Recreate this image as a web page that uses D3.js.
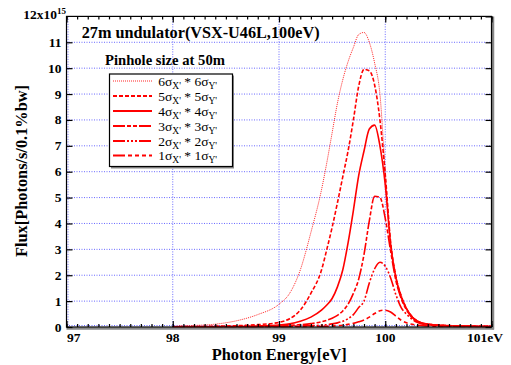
<!DOCTYPE html>
<html><head><meta charset="utf-8">
<script src="https://cdn.jsdelivr.net/npm/d3@7"></script>
<style>
html,body{margin:0;padding:0;background:#fff;}
svg{display:block;}
text{font-family:"Liberation Serif","DejaVu Serif",serif;}
</style></head>
<body><svg id="c" width="511" height="365"></svg>
<script>
const energy = [98.0,98.2,98.4,98.6,98.8,99.0,99.1,99.2,99.3,99.4,99.45,99.5,99.55,99.6,99.65,99.7,99.75,99.8,99.85,99.9,99.95,100.0,100.05,100.1,100.15,100.2,100.3,100.4,100.6,100.8,101.0];
const flux6 = [0.03,0.06,0.11,0.24,0.48,0.88,1.3,2.2,3.65,5.3,6.35,7.5,8.65,9.55,10.25,10.8,11.3,11.38,11.0,10.2,9.0,6.0,3.3,2.0,1.25,0.75,0.25,0.12,0.06,0.04,0.03];
const flux5 = [0.01,0.02,0.03,0.05,0.09,0.18,0.32,0.65,1.3,2.2,3.0,3.85,4.8,5.8,6.8,8.0,9.3,9.95,9.9,9.35,8.0,5.9,3.3,1.95,1.2,0.72,0.24,0.11,0.055,0.035,0.025];
const flux4 = [0.005,0.01,0.015,0.02,0.04,0.08,0.12,0.22,0.38,0.65,0.85,1.1,1.55,2.2,3.25,4.5,5.85,6.8,7.65,7.8,7.0,5.5,3.2,1.9,1.15,0.7,0.23,0.1,0.05,0.03,0.02];
const flux3 = [0.003,0.005,0.008,0.012,0.02,0.04,0.06,0.09,0.13,0.2,0.26,0.34,0.45,0.62,0.88,1.3,1.85,2.8,4.1,5.05,5.0,4.2,2.95,1.8,1.1,0.66,0.22,0.1,0.045,0.03,0.02];
const flux2 = [0.002,0.004,0.006,0.008,0.01,0.02,0.03,0.04,0.05,0.07,0.09,0.12,0.16,0.22,0.32,0.48,0.75,1.0,1.7,2.25,2.5,2.35,1.9,1.25,0.75,0.5,0.18,0.08,0.04,0.025,0.015];
const flux1 = [0.001,0.001,0.002,0.002,0.003,0.005,0.007,0.01,0.015,0.02,0.03,0.04,0.05,0.07,0.1,0.14,0.2,0.27,0.38,0.52,0.63,0.65,0.58,0.42,0.26,0.16,0.07,0.04,0.02,0.012,0.008];
const seriesLabels = ["6","5","4","3","2","1"];
const xTicks = [97,98,99,100,101];
const xTickLabels = ["97","98","99","100","101eV"];
const yTicks = [0,1,2,3,4,5,6,7,8,9,10,11];
const titleText = "27m undulator(VSX-U46L,100eV)";
const subTitleText = "Pinhole size at 50m";
const xLabel = "Photon Energy[eV]";
const yLabel = "Flux[Photons/s/0.1%bw]";

const allFlux = [flux6,flux5,flux4,flux3,flux2,flux1];
const styles = [
  {w:1, dash:"1,1", op:0.85},
  {w:1.6, dash:"4,2", op:1},
  {w:1.6, dash:null, op:1},
  {w:1.6, dash:"12,2,4,2,4,2", op:1},
  {w:1.6, dash:"12,2,2,2,2,2,2,2", op:1},
  {w:1.6, dash:"12,3,4,3,4,3,4,3", op:1}
];

const svg = d3.select("#c");
const L=66.5, R=491.5, T=16.4, B=327;
const x = d3.scaleLinear().domain([97,101]).range([L,R]);
const y = d3.scaleLinear().domain([0,12]).range([B,T]);

function fit(sel, target){
  const s = +sel.attr("font-size");
  const w = sel.node().getComputedTextLength();
  if (w>0) sel.attr("font-size", (s*target/w).toFixed(2));
  return sel;
}

// grid
const grid = svg.append("g").attr("stroke","#6a6aff").attr("stroke-width",1).attr("stroke-dasharray","1,1.5").attr("fill","none");
xTicks.filter(v=>v>97&&v<101).forEach(v=>{
  grid.append("line").attr("x1",x(v)).attr("x2",x(v)).attr("y1",T).attr("y2",B);
});
yTicks.filter(v=>v>0&&v<12).forEach(v=>{
  grid.append("line").attr("x1",L).attr("x2",R).attr("y1",y(v)).attr("y2",y(v));
});
grid.append("line").attr("x1",L+1.5).attr("x2",L+1.5).attr("y1",T).attr("y2",B);
grid.append("line").attr("x1",L).attr("x2",R).attr("y1",B-1.5).attr("y2",B-1.5);

// curves
const line = d3.line().x((d,i)=>x(energy[i])).y(d=>y(d)).curve(d3.curveMonotoneX);
allFlux.forEach((f,k)=>{
  const st=styles[k];
  svg.append("path").attr("d",line(f)).attr("fill","none").attr("stroke","#ff0000")
    .attr("stroke-width",st.w).attr("stroke-opacity",st.op)
    .attr("stroke-dasharray",st.dash);
});

// frame shadow
svg.append("line").attr("x1",R+1.5).attr("x2",R+1.5).attr("y1",T).attr("y2",B+2.5).attr("stroke","#888").attr("stroke-width",2.5);
svg.append("line").attr("x1",L).attr("x2",R+2.5).attr("y1",B+1.5).attr("y2",B+1.5).attr("stroke","#888").attr("stroke-width",2.5);
svg.append("rect").attr("x",L).attr("y",T).attr("width",R-L).attr("height",B-T).attr("fill","none").attr("stroke","#000").attr("stroke-width",1.2);

// axes ticks
const minor = d3.range(97,101.001,0.1).map(v=>+v.toFixed(1));
const gB = svg.append("g").attr("transform",`translate(0,${B})`)
  .call(d3.axisBottom(x).tickValues(minor).tickSize(-3).tickFormat(""));
const gB2 = svg.append("g").attr("transform",`translate(0,${B})`)
  .call(d3.axisBottom(x).tickValues(xTicks).tickSize(-6).tickFormat(""));
const gT = svg.append("g").attr("transform",`translate(0,${T})`)
  .call(d3.axisTop(x).tickValues(minor).tickSize(-3).tickFormat(""));
const gT2 = svg.append("g").attr("transform",`translate(0,${T})`)
  .call(d3.axisTop(x).tickValues(xTicks).tickSize(-6).tickFormat(""));
const gL = svg.append("g").attr("transform",`translate(${L},0)`)
  .call(d3.axisLeft(y).tickValues(yTicks).tickSize(-6).tickFormat(""));
const gR = svg.append("g").attr("transform",`translate(${R},0)`)
  .call(d3.axisRight(y).tickValues(yTicks.concat([12])).tickSize(-6).tickFormat(""));
[gB,gB2,gT,gT2,gL,gR].forEach(g=>{
  g.select(".domain").remove();
  g.selectAll("line").attr("stroke","#000").attr("stroke-width",1.2);
});

// tick labels
const lab = svg.append("g").attr("font-weight","bold").attr("font-size",13.5).attr("fill","#000");
xTicks.forEach((v,i)=>{
  let anchor="middle", xp=x(v);
  if(i===0){anchor="start"; xp=x(v)+0.5;}
  if(i===xTicks.length-1){anchor="end"; xp=503;}
  lab.append("text").attr("x",xp).attr("y",341.5).attr("text-anchor",anchor).text(xTickLabels[i]);
});
yTicks.forEach(v=>{
  lab.append("text").attr("x",61.5).attr("y",y(v)+4.5).attr("text-anchor","end").text(String(v));
});
lab.append("text").attr("x",57).attr("y",y(12)+3).attr("text-anchor","end").text("12x10");
lab.append("text").attr("x",57).attr("y",y(12)-2).attr("font-size",9).text("15");

// axis titles
fit(svg.append("text").attr("x",279.2).attr("y",360).attr("text-anchor","middle").attr("font-weight","bold").attr("font-size",15.5).text(xLabel),135);
fit(svg.append("text").attr("transform","translate(26.5,171) rotate(-90)").attr("text-anchor","middle").attr("font-weight","bold").attr("font-size",15).text(yLabel),172);

// title
fit(svg.append("text").attr("x",81.7).attr("y",37.5).attr("font-weight","bold").attr("font-size",15.5).text(titleText),238);
fit(svg.append("text").attr("x",105).attr("y",64.8).attr("font-weight","bold").attr("font-size",13).text(subTitleText),120);

// legend
const lg = svg.append("g");
lg.append("rect").attr("x",111).attr("y",75.5).attr("width",123).attr("height",93).attr("fill","#888");
lg.append("rect").attr("x",109.5).attr("y",74).attr("width",123).attr("height",92.5).attr("fill","#fff").attr("stroke","#000").attr("stroke-width",1.2);
const rows=[81,96,111,126,141,155.5];
seriesLabels.forEach((s,k)=>{
  const st=styles[k];
  lg.append("line").attr("x1",113).attr("x2",152).attr("y1",rows[k]).attr("y2",rows[k])
    .attr("stroke","#ff0000").attr("stroke-width",st.w+0.2).attr("stroke-opacity",st.op).attr("stroke-dasharray",st.dash);
  const t=lg.append("text").attr("x",158.3).attr("y",rows[k]+4.5).attr("font-size",13.5);
  t.append("tspan").text(s+"σ");
  t.append("tspan").attr("font-size",9.5).attr("dy",3).text("X'");
  t.append("tspan").attr("dy",-3).text(" * "+s+"σ");
  t.append("tspan").attr("font-size",9.5).attr("dy",3).text("Y'");
});
</script></body></html>
